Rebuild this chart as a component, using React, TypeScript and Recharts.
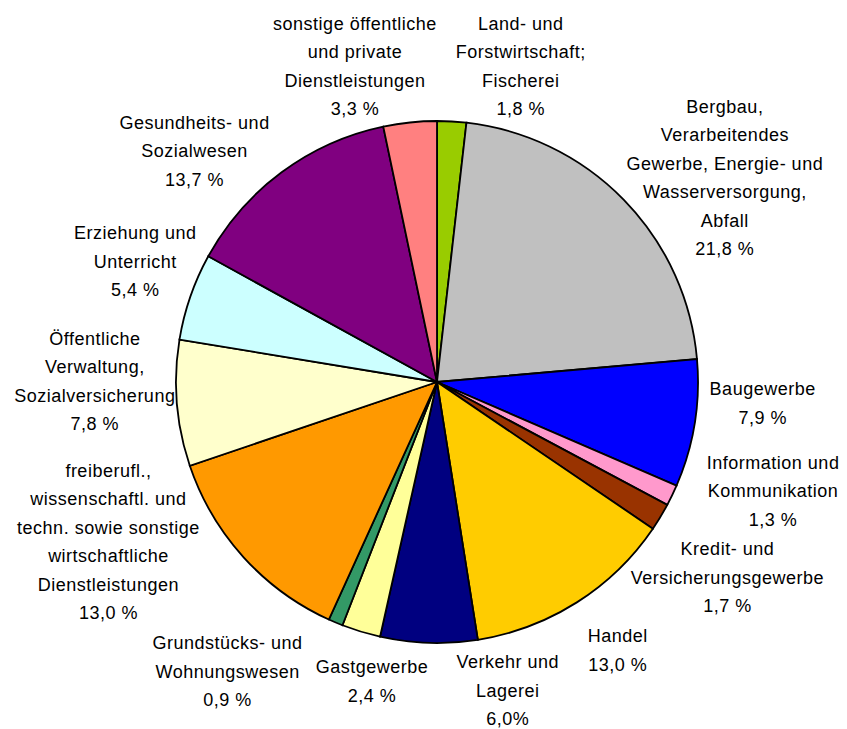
import React from "react";
import { PieChart, Pie, Cell } from "recharts";

const categories: string[][] = [
  ["Land- und", "Forstwirtschaft;", "Fischerei"],
  ["Bergbau,", "Verarbeitendes", "Gewerbe, Energie- und", "Wasserversorgung,", "Abfall"],
  ["Baugewerbe"],
  ["Information und", "Kommunikation"],
  ["Kredit- und", "Versicherungsgewerbe"],
  ["Handel"],
  ["Verkehr und", "Lagerei"],
  ["Gastgewerbe"],
  ["Grundstücks- und", "Wohnungswesen"],
  ["freiberufl.,", "wissenschaftl. und", "techn. sowie sonstige", "wirtschaftliche", "Dienstleistungen"],
  ["Öffentliche", "Verwaltung,", "Sozialversicherung"],
  ["Erziehung und", "Unterricht"],
  ["Gesundheits- und", "Sozialwesen"],
  ["sonstige öffentliche", "und private", "Dienstleistungen"],
];

const values: number[] = [1.8, 21.8, 7.9, 1.3, 1.7, 13.0, 6.0, 2.4, 0.9, 13.0, 7.8, 5.4, 13.7, 3.3];

const valueLabels: string[] = [
  "1,8 %", "21,8 %", "7,9 %", "1,3 %", "1,7 %", "13,0 %", "6,0%", "2,4 %", "0,9 %", "13,0 %", "7,8 %", "5,4 %", "13,7 %", "3,3 %",
];

const colors: string[] = [
  "#99CC00", "#C0C0C0", "#0000FF", "#FF99CC", "#993300", "#FFCC00", "#000080",
  "#FFFF99", "#339966", "#FF9900", "#FFFFCC", "#CCFFFF", "#800080", "#FF8080",
];

// label block offsets relative to the slice's outer-edge midpoint
const labelOffsets: [number, number][] = [
  [69, -55], [101, -22], [68, -20], [101, -4], [67, 61], [41, 48], [79, 48],
  [11, 50], [-108, 49], [-135, -15], [-82, -22], [-55, -35], [-87, -21], [-55, -56],
];

const data = values.map((v, i) => ({ name: categories[i].join(" "), value: v, idx: i }));

const LINE = 28.5;
const FONT = "'Liberation Sans', Arial, sans-serif";

const renderLabel = (props: any) => {
  const { cx, cy, midAngle, outerRadius, index } = props;
  const rad = (Math.PI / 180) * midAngle;
  const bx = cx + outerRadius * Math.cos(rad);
  const by = cy - outerRadius * Math.sin(rad);
  const [dx, dy] = labelOffsets[index];
  const lines = [...categories[index], valueLabels[index]];
  const x = bx + dx;
  const yc = by + dy;
  const y0 = yc - ((lines.length - 1) * LINE) / 2 + 6;
  return (
    <text
      key={`lbl-${index}`}
      x={x}
      y={y0}
      textAnchor="middle"
      fill="#000"
      fontFamily={FONT}
      fontSize={18}
      letterSpacing={0.5}
    >
      {lines.map((l, k) => (
        <tspan key={k} x={x} y={y0 + k * LINE}>
          {l}
        </tspan>
      ))}
    </text>
  );
};

export default function App() {
  return (
    <div style={{ position: "absolute", left: 0, top: 0, background: "#fff" }}>
      <PieChart width={847} height={729} margin={{ top: 0, right: 0, bottom: 0, left: 0 }}>
        <Pie
          data={data}
          dataKey="value"
          cx={437}
          cy={382}
          outerRadius={261}
          startAngle={90}
          endAngle={-270}
          stroke="#000"
          strokeWidth={1.8}
          label={renderLabel}
          labelLine={false}
          isAnimationActive={false}
        >
          {data.map((d, i) => (
            <Cell key={i} fill={colors[i]} />
          ))}
        </Pie>
      </PieChart>
    </div>
  );
}
